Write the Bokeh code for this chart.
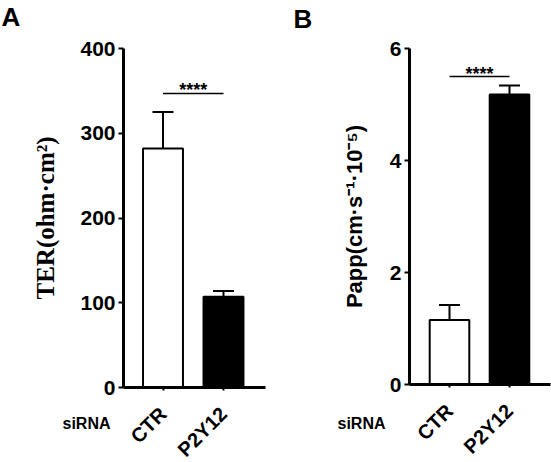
import math
from bokeh.plotting import figure
from bokeh.models import (Range1d, Whisker, TeeHead, ColumnDataSource,
                          Label, FixedTicker, LinearAxis)
from bokeh.layouts import row
from bokeh.core.properties import value
from bokeh.embed import file_html
from bokeh.resources import INLINE

# ---------------- data ----------------
categories = ["CTR", "P2Y12"]
bar_colors = ["white", "black"]

ter_mean = [282, 107]
ter_sem = [43, 7]
ter_ticks = [0, 100, 200, 300, 400]
ter_sig_y = 347

papp_mean = [1.15, 5.18]
papp_sem = [0.27, 0.16]
papp_ticks = [0, 2, 4, 6]
papp_sig_y = 5.5

sig_text = "****"
group_label = "siRNA"

SANS = "Liberation Sans"
SERIF = "Liberation Serif"
H = 462


def make_panel(letter, means, sems, ticks, ymax, sig_y, ylabel, ylabel_font,
               ylabel_size, width, axis_px, first_px, step_px, right_px,
               zero_px, top_px, label_standoff, letter_xy, grp_xy):
    xpos = list(range(len(categories)))
    # pixel layout -> ranges
    x_start = -first_px / step_px
    x_end = (width - first_px) / step_px
    x_axis_at = (axis_px - first_px) / step_px
    x_axis_end = (right_px - first_px) / step_px
    ppu = (zero_px - top_px) / ymax
    y_start = -(H - zero_px) / ppu
    y_end = ymax + top_px / ppu

    p = figure(width=width, height=H, output_backend="svg", toolbar_location=None,
               x_range=Range1d(x_start, x_end), y_range=Range1d(y_start, y_end),
               x_axis_location=None, y_axis_location=None,
               min_border=0)
    p.outline_line_color = None
    p.background_fill_color = "white"
    p.border_fill_color = "white"
    p.xgrid.visible = False
    p.ygrid.visible = False

    src = ColumnDataSource(dict(
        x=xpos, top=means, color=bar_colors,
        upper=[m + s for m, s in zip(means, sems)],
        lower=[m - s for m, s in zip(means, sems)]))
    p.vbar(x="x", top="top", width=0.66, bottom=0, source=src,
           fill_color="color", line_color="black", line_width=2)
    w = Whisker(base="x", upper="upper", lower="lower", source=src,
                dimension="height", line_color="black", line_width=2,
                upper_head=TeeHead(size=21, line_width=2, line_color="black"),
                lower_head=TeeHead(size=21, line_width=2, line_color="black"))
    p.add_layout(w)

    # significance bracket
    p.segment(x0=[xpos[0]], x1=[xpos[1]], y0=[sig_y], y1=[sig_y],
              line_color="black", line_width=1.5)
    p.text(x=[(xpos[0] + xpos[1]) / 2], y=[sig_y], text=[sig_text],
           text_align="center", text_baseline="alphabetic", y_offset=-3,
           text_font=value(SANS), text_font_style="bold", text_font_size="18px",
           text_color="black")

    # y axis
    yax = LinearAxis(fixed_location=x_axis_at, bounds=(0, ymax),
                     ticker=FixedTicker(ticks=ticks))
    yax.axis_line_width = 3
    yax.axis_line_color = "black"
    yax.major_tick_line_width = 2
    yax.major_tick_line_color = "black"
    yax.major_tick_out = 5
    yax.major_tick_in = 0
    yax.minor_tick_line_color = None
    yax.major_label_text_font = SANS
    yax.major_label_text_font_style = "bold"
    yax.major_label_text_font_size = "21px"
    yax.major_label_text_color = "black"
    yax.major_label_standoff = 3
    yax.axis_label = ylabel
    yax.axis_label_text_font = ylabel_font
    yax.axis_label_text_font_style = "bold"
    yax.axis_label_text_font_size = ylabel_size
    yax.axis_label_text_color = "black"
    yax.axis_label_standoff = label_standoff
    p.add_layout(yax, "left")

    # x axis
    xax = LinearAxis(fixed_location=0, bounds=(x_axis_at, x_axis_end),
                     ticker=FixedTicker(ticks=xpos),
                     major_label_overrides={i: c for i, c in zip(xpos, categories)})
    xax.axis_line_width = 3
    xax.axis_line_color = "black"
    xax.major_tick_line_width = 2
    xax.major_tick_line_color = "black"
    xax.major_tick_out = 3
    xax.major_tick_in = 0
    xax.minor_tick_line_color = None
    xax.major_label_orientation = math.pi / 4
    xax.major_label_text_font = SANS
    xax.major_label_text_font_style = "bold"
    xax.major_label_text_font_size = "20px"
    xax.major_label_text_color = "black"
    xax.major_label_standoff = 20
    p.add_layout(xax, "below")

    p.add_layout(Label(x=letter_xy[0], y=H - letter_xy[1], x_units="screen", y_units="screen",
                       text=letter, text_font=SANS, text_font_style="bold",
                       text_font_size="26px", text_baseline="top", text_align="left",
                       text_color="black"))
    p.add_layout(Label(x=grp_xy[0], y=H - grp_xy[1], x_units="screen", y_units="screen",
                       text=group_label, text_font=SANS, text_font_style="bold",
                       text_font_size="16px", text_baseline="middle", text_align="left",
                       text_color="black"))
    return p


pA = make_panel("A", ter_mean, ter_sem, ter_ticks, 400, ter_sig_y,
                "TER(ohm·cm²)", SERIF, "25px",
                width=280, axis_px=123, first_px=162.5, step_px=60.5, right_px=265,
                zero_px=387, top_px=48, label_standoff=18,
                letter_xy=(1, 1), grp_xy=(62, 423))
pB = make_panel("B", papp_mean, papp_sem, papp_ticks, 6, papp_sig_y,
                "Papp(cm·s⁻¹·10⁻⁵)", SANS, "22px",
                width=271, axis_px=129, first_px=169, step_px=60, right_px=270,
                zero_px=384, top_px=48, label_standoff=20,
                letter_xy=(13, 3), grp_xy=(57, 423))

layout = row(pA, pB)
open("out.html", "w").write(file_html(layout, INLINE))
